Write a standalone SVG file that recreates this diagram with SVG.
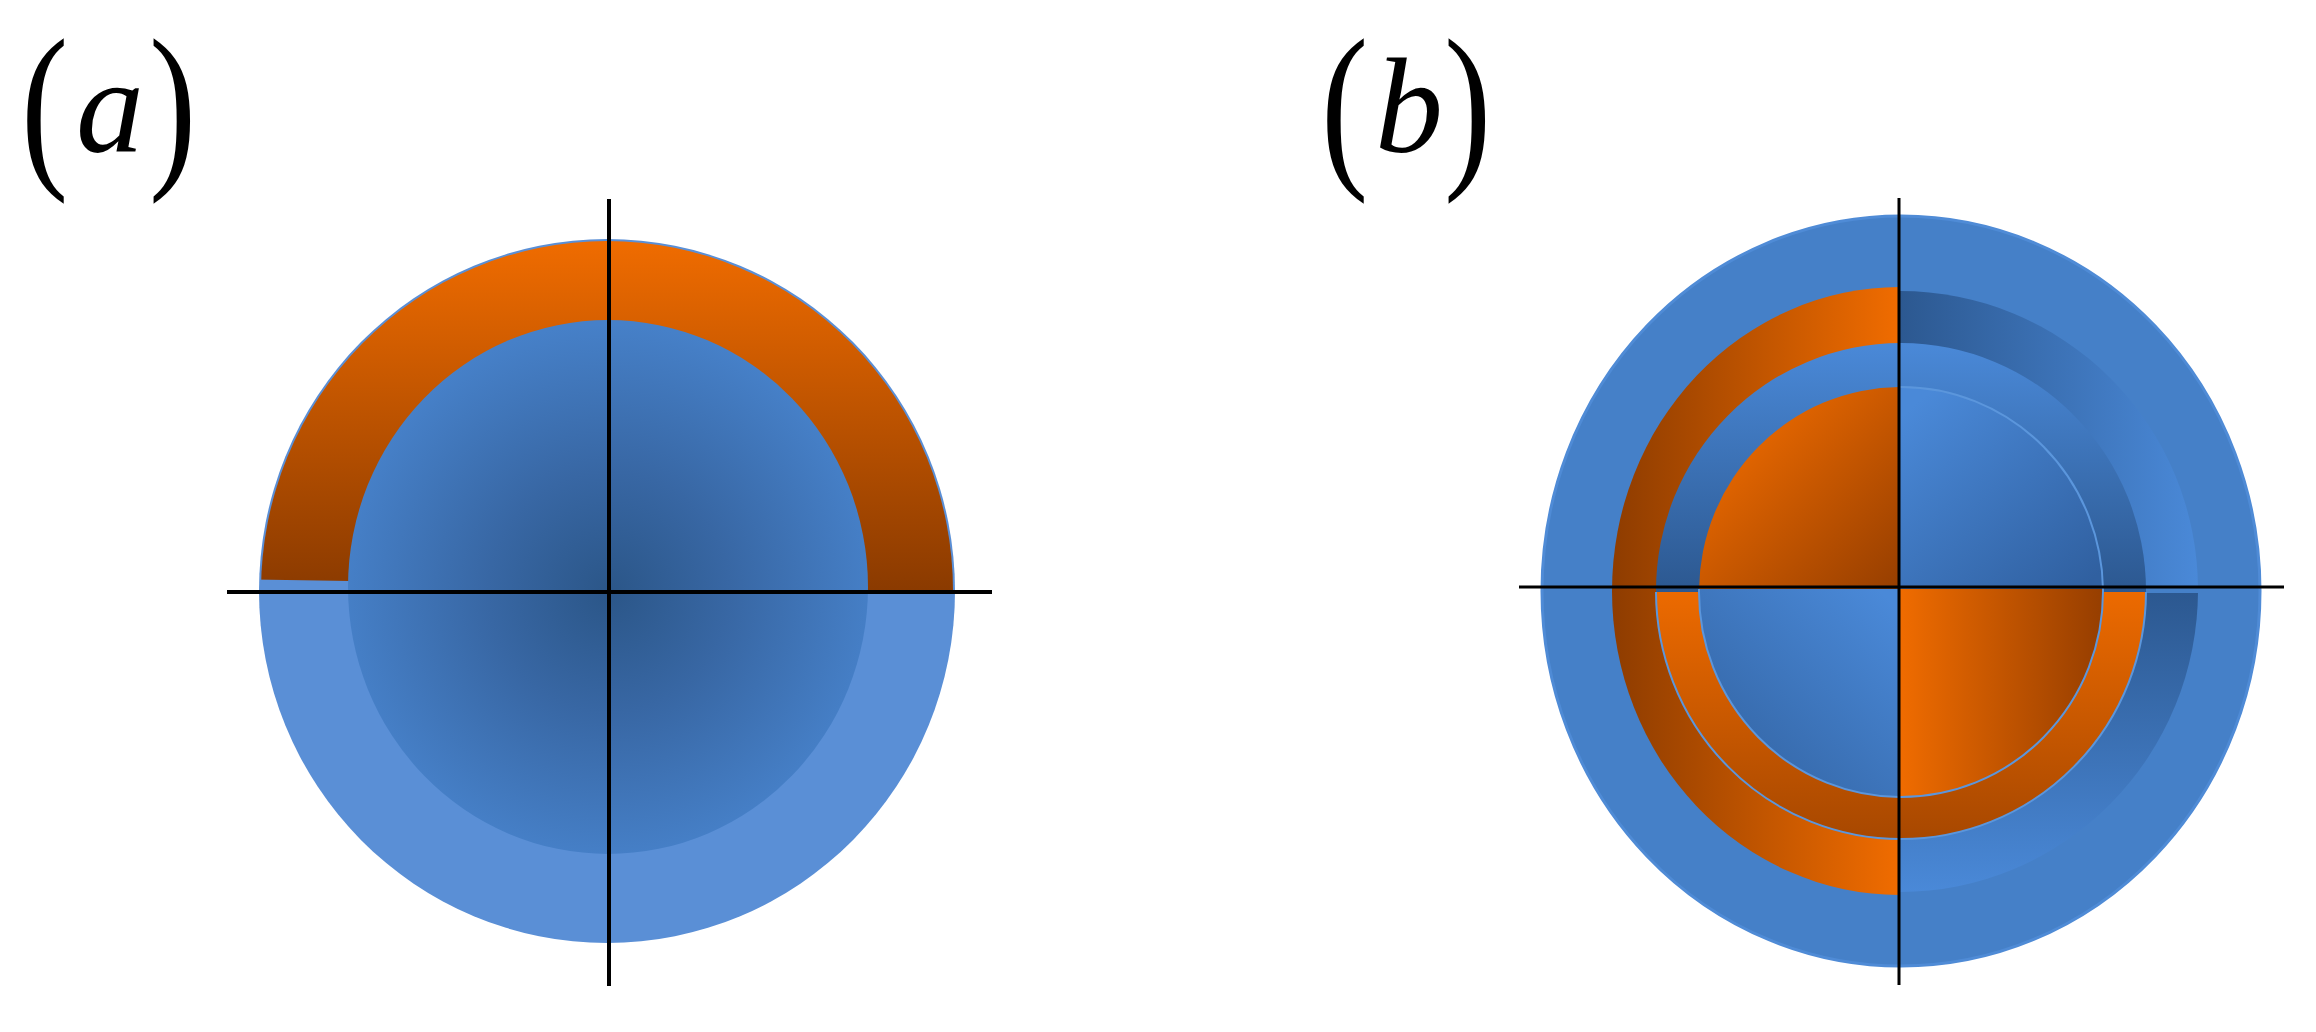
<svg xmlns="http://www.w3.org/2000/svg" width="2316" height="1032" viewBox="0 0 2316 1032">
<style>
.lbl{font-family:"Liberation Serif","Times New Roman",serif;fill:#000}
.it{font-style:italic}
.axis{stroke:#000;stroke-width:4;fill:none}
.axis2{stroke:#000;stroke-width:3;fill:none}
.rim{stroke:#5b96dc;stroke-width:2}
</style>
<defs>
<radialGradient id="gaCore" gradientUnits="userSpaceOnUse" cx="609" cy="592" r="268">
<stop offset="0" stop-color="#2b5688"/>
<stop offset="0.45" stop-color="#3867a4"/>
<stop offset="1" stop-color="#4680c8"/>
</radialGradient>
<linearGradient id="gaOrange" gradientUnits="userSpaceOnUse" x1="0" y1="239" x2="0" y2="592">
<stop offset="0" stop-color="#f06c00"/>
<stop offset="1" stop-color="#8a3a00"/>
</linearGradient>
<linearGradient id="gbOrL" gradientUnits="userSpaceOnUse" x1="1612" y1="0" x2="1899" y2="0">
<stop offset="0" stop-color="#8e3c00"/>
<stop offset="1" stop-color="#f06c00"/>
</linearGradient>
<linearGradient id="gbTR3" gradientUnits="userSpaceOnUse" x1="1899" y1="0" x2="2198" y2="0">
<stop offset="0" stop-color="#2c5890"/>
<stop offset="1" stop-color="#4a89d8"/>
</linearGradient>
<linearGradient id="gbBR3" gradientUnits="userSpaceOnUse" x1="0" y1="593" x2="0" y2="892">
<stop offset="0" stop-color="#2c5890"/>
<stop offset="1" stop-color="#4a89d8"/>
</linearGradient>
<linearGradient id="gbU2" gradientUnits="userSpaceOnUse" x1="0" y1="343" x2="0" y2="592">
<stop offset="0" stop-color="#4a89d8"/>
<stop offset="1" stop-color="#2c5890"/>
</linearGradient>
<linearGradient id="gbL2" gradientUnits="userSpaceOnUse" x1="0" y1="592" x2="0" y2="838">
<stop offset="0" stop-color="#ec6a00"/>
<stop offset="1" stop-color="#a84800"/>
</linearGradient>
<linearGradient id="gbTLc" gradientUnits="userSpaceOnUse" x1="1740" y1="430" x2="1899" y2="590">
<stop offset="0" stop-color="#e86800"/>
<stop offset="1" stop-color="#963e00"/>
</linearGradient>
<linearGradient id="gbBRc" gradientUnits="userSpaceOnUse" x1="1899" y1="0" x2="2103" y2="0">
<stop offset="0" stop-color="#f06c00"/>
<stop offset="1" stop-color="#963e00"/>
</linearGradient>
<linearGradient id="gbTRc" gradientUnits="userSpaceOnUse" x1="1920" y1="400" x2="2080" y2="590">
<stop offset="0" stop-color="#4a89d8"/>
<stop offset="1" stop-color="#3060a0"/>
</linearGradient>
<linearGradient id="gbBLc" gradientUnits="userSpaceOnUse" x1="1890" y1="600" x2="1730" y2="770">
<stop offset="0" stop-color="#4a89d8"/>
<stop offset="1" stop-color="#3466a6"/>
</linearGradient>
<clipPath id="caTop"><polygon points="150,150 1000,150 1000,592 608,592 350,581 150,578"/></clipPath>
<clipPath id="cbLeft"><rect x="1500" y="150" width="399" height="850"/></clipPath>
<clipPath id="cbTR"><rect x="1899" y="150" width="400" height="438"/></clipPath>
<clipPath id="cbBR"><rect x="1899" y="593" width="400" height="420"/></clipPath>
<clipPath id="cbU"><rect x="1500" y="150" width="800" height="442"/></clipPath>
<clipPath id="cbL"><rect x="1500" y="592" width="800" height="420"/></clipPath>
<clipPath id="cbQTL"><rect x="1500" y="150" width="399" height="439"/></clipPath>
<clipPath id="cbQTR"><rect x="1899" y="150" width="400" height="439"/></clipPath>
<clipPath id="cbQBL"><rect x="1500" y="589" width="399" height="420"/></clipPath>
<clipPath id="cbQBR"><rect x="1899" y="589" width="400" height="420"/></clipPath>
</defs>

<g id="label-a">
<text class="lbl" font-size="182" transform="translate(21,165) scale(0.78,1)">(</text>
<text class="lbl it" font-size="136" x="76" y="152">a</text>
<text class="lbl" font-size="182" transform="translate(149,165) scale(0.78,1)">)</text>
</g>
<g id="label-b">
<text class="lbl" font-size="182" transform="translate(1321,165) scale(0.78,1)">(</text>
<text class="lbl it" font-size="136" x="1375" y="152">b</text>
<text class="lbl" font-size="182" transform="translate(1444,165) scale(0.78,1)">)</text>
</g>

<g id="panel-a">
<ellipse id="a-outer" cx="607" cy="591" rx="348" ry="352" fill="#5a8fd6"/>
<ellipse id="a-orange-ring" cx="607" cy="591" rx="346" ry="350" fill="url(#gaOrange)" clip-path="url(#caTop)"/>
<ellipse id="a-core" cx="608" cy="587" rx="260" ry="267" fill="url(#gaCore)"/>
</g>

<g id="panel-b">
<ellipse id="b-outer" cx="1901" cy="591" rx="359" ry="375" fill="#4580c8" stroke="#4f8bd6" stroke-width="3"/>
<ellipse id="b-ring3-left" cx="1900" cy="591" rx="288" ry="304" fill="url(#gbOrL)" clip-path="url(#cbLeft)"/>
<ellipse id="b-ring3-tr" cx="1900" cy="590" rx="298" ry="299" fill="url(#gbTR3)" clip-path="url(#cbTR)"/>
<ellipse id="b-ring3-br" cx="1900" cy="590" rx="298" ry="302" fill="url(#gbBR3)" clip-path="url(#cbBR)"/>
<ellipse id="b-ring2-up" cx="1901" cy="591" rx="245" ry="248" fill="url(#gbU2)" clip-path="url(#cbU)"/>
<ellipse id="b-ring2-low" cx="1901" cy="591" rx="245" ry="248" fill="url(#gbL2)" class="rim" clip-path="url(#cbL)"/>
<g id="b-core">
<ellipse cx="1901" cy="592" rx="202" ry="205" fill="url(#gbTLc)" clip-path="url(#cbQTL)"/>
<ellipse cx="1901" cy="592" rx="202" ry="205" fill="url(#gbTRc)" class="rim" clip-path="url(#cbQTR)"/>
<ellipse cx="1901" cy="592" rx="202" ry="205" fill="url(#gbBLc)" class="rim" clip-path="url(#cbQBL)"/>
<ellipse cx="1901" cy="592" rx="202" ry="205" fill="url(#gbBRc)" class="rim" clip-path="url(#cbQBR)"/>
</g>
</g>

<g id="axes">
<line class="axis" x1="609" y1="199" x2="609" y2="986"/>
<line class="axis" x1="227" y1="592" x2="992" y2="592"/>
<line class="axis2" x1="1899" y1="198" x2="1899" y2="985"/>
<line class="axis2" x1="1519" y1="587" x2="2284" y2="587"/>
</g>
</svg>
